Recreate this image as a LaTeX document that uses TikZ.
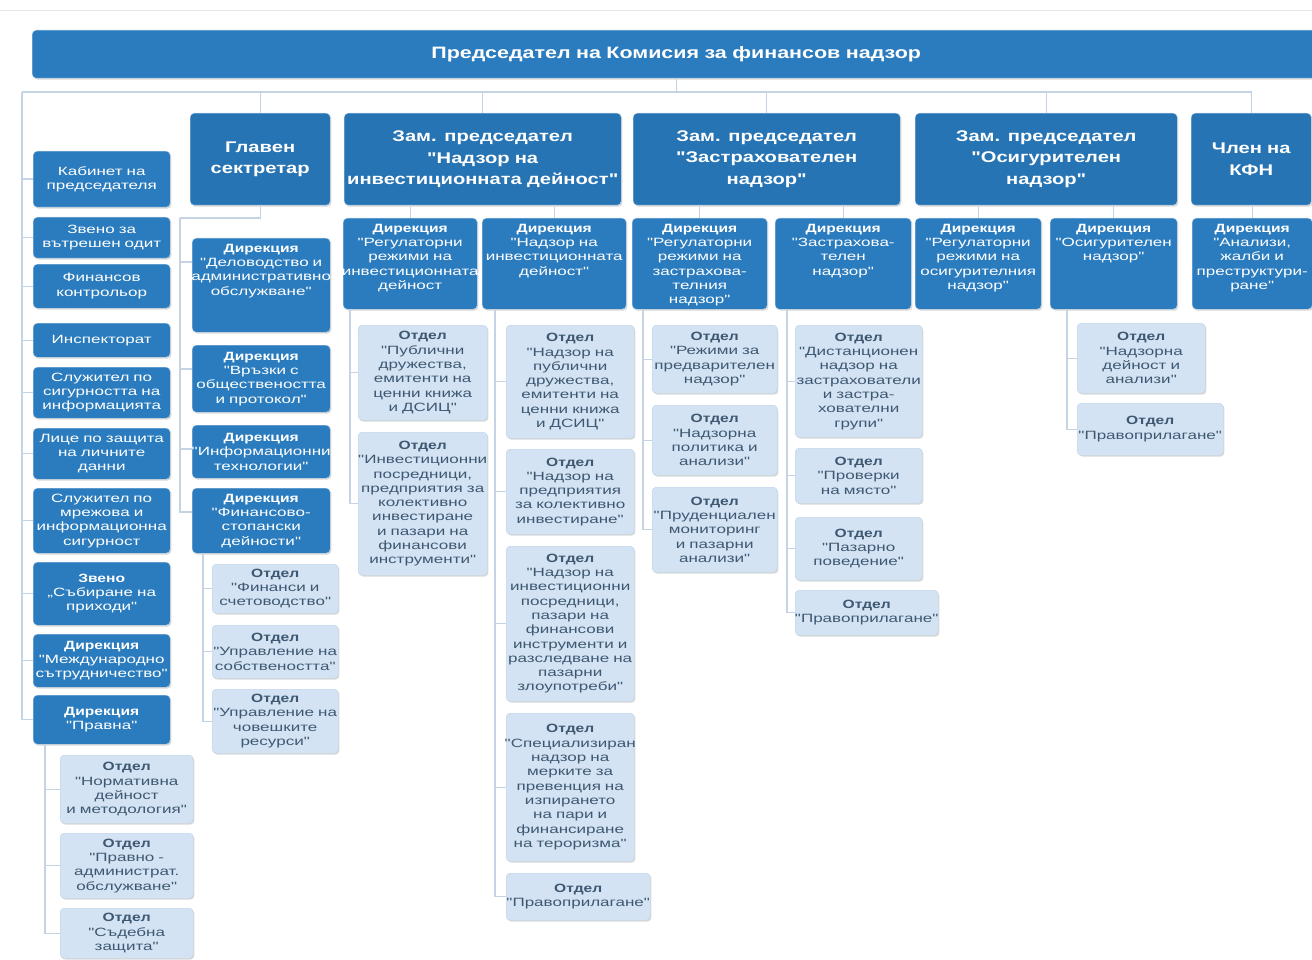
\documentclass[tikz,border=0pt]{standalone}
\usepackage{fontspec}
\setmainfont{Liberation Sans}[Ligatures=TeXOff, FakeStretch=1.42, BoldFeatures={FakeStretch=1.3}]
\usetikzlibrary{shadows}
\definecolor{kfnblue}{RGB}{42,124,190}
\definecolor{kfndark}{RGB}{38,116,180}
\definecolor{kfnlight}{RGB}{211,227,243}
\definecolor{kfnedge}{RGB}{190,210,230}
\definecolor{kfntext}{RGB}{62,88,114}
\definecolor{kfnline}{RGB}{196,212,228}

\begin{document}
\begin{tikzpicture}[x=1pt, y=-1pt,
    box/.style={anchor=north west, inner xsep=-5pt, inner ysep=3pt, align=center,
        rounded corners=4pt, drop shadow={shadow xshift=1.2pt, shadow yshift=-1.4pt, opacity=.3}},
    topbar/.style={box, fill=kfnblue, draw=kfnedge, text=white, font=\fontsize{16.5}{20}\selectfont\bfseries},
    headbox/.style={box, fill=kfndark, draw=kfnedge, text=white, font=\fontsize{15.5}{21.5}\selectfont\bfseries},
    dirbox/.style={box, fill=kfnblue, draw=kfnedge, text=white, font=\fontsize{12}{14.3}\selectfont},
    deptbox/.style={box, fill=kfnlight, draw=kfnedge, text=kfntext, font=\fontsize{12}{14.3}\selectfont},
    attop/.style={text height=11pt, text depth=#1},
    link/.style={draw=kfnline, line width=1.4pt}]
    \clip (0,0) rectangle (1312,960);
    \draw[black!10] (0,10) -- (1312,10);

    % chairman and the five top boxes (text width = box width + 10)
    \node[topbar, text width=1298, minimum height=48] (pred) at (32,30) {Председател на Комисия за финансов надзор};
    \node[headbox, text width=150, minimum height=92] (gs) at (190,113) {Главен\\сектретар};
    \node[headbox, text width=287, minimum height=92] (zam1) at (344,113) {Зам. председател\\"Надзор на\\инвестиционната~дейност"};
    \node[headbox, text width=277, minimum height=92] (zam2) at (633,113) {Зам. председател\\"Застрахователен\\надзор"};
    \node[headbox, text width=272, minimum height=92] (zam3) at (915,113) {Зам. председател\\"Осигурителен\\надзор"};
    \node[headbox, text width=130, minimum height=92] (chlen) at (1191,113) {Член на\\КФН};

    \coordinate (lefttop) at (22,92);
    \coordinate (busend) at (1252,92);
    \draw[link] (pred.south) -- (pred.south |- lefttop);
    \draw[link] (lefttop) -- (busend);
    \foreach \n in {gs,zam1,zam2,zam3,chlen}
        \draw[link] (\n.north) -- (\n.north |- lefttop);

    % units under the chairman
    \node[dirbox, text width=147, minimum height=56] (k1) at (33,151) {Кабинет на\\председателя};
    \node[dirbox, text width=147, minimum height=41] (k2) at (33,217) {Звено за\\вътрешен одит};
    \node[dirbox, text width=147, minimum height=44] (k3) at (33,264) {Финансов\\контрольор};
    \node[dirbox, text width=147, minimum height=34] (k4) at (33,323) {Инспекторат};
    \node[dirbox, text width=147, minimum height=51] (k5) at (33,367) {Служител по\\сигурността на\\информацията};
    \node[dirbox, text width=147, minimum height=51] (k6) at (33,428) {Лице по защита\\на личните\\данни};
    \node[dirbox, text width=147, minimum height=65] (k7) at (33,488) {Служител по\\мрежова и\\информационна\\сигурност};
    \node[dirbox, text width=147, minimum height=63] (k8) at (33,562) {\textbf{Звено}\\„Събиране на\\приходи"};
    \node[dirbox, text width=147, minimum height=53] (k9) at (33,634) {\textbf{Дирекция}\\"Международно\\сътрудничество"};
    \node[dirbox, text width=147, minimum height=49] (k10) at (33,695) {\textbf{Дирекция}\\"Правна"};
    \foreach \n in {k1,k2,k3,k4,k5,k6,k7,k8,k9,k10}
        \draw[link] (lefttop) |- (\n.west);

    \node[deptbox, text width=143, minimum height=68] (p1) at (60,755) {\textbf{Отдел}\\"Нормативна\\дейност\\и методология"};
    \node[deptbox, text width=143, minimum height=65] (p2) at (60,833) {\textbf{Отдел}\\"Правно -\\администрат.\\обслужване"};
    \node[deptbox, text width=143, minimum height=50] (p3) at (60,908) {\textbf{Отдел}\\"Съдебна\\защита"};
    \coordinate (pr) at ([xshift=12pt]k10.south west);
    \foreach \n in {p1,p2,p3}
        \draw[link] (pr) |- (\n.west);

    % chief secretary
    \node[dirbox, text width=148, minimum height=94, attop=77] (g1) at (192,238) {\textbf{Дирекция}\\"Деловодство и\\административно\\обслужване"};
    \node[dirbox, text width=148, minimum height=67] (g2) at (192,345) {\textbf{Дирекция}\\"Връзки с\\обществеността\\и протокол"};
    \node[dirbox, text width=148, minimum height=53] (g3) at (192,425) {\textbf{Дирекция}\\"Информационни\\технологии"};
    \node[dirbox, text width=148, minimum height=65] (g4) at (192,488) {\textbf{Дирекция}\\"Финансово-\\стопански\\дейности"};
    \coordinate (gsj) at (180,218);
    \draw[link] (gs.south) |- (gsj);
    \foreach \n in {g1,g2,g3,g4}
        \draw[link] (gsj) |- ([yshift=-24pt]\n.north west);

    \node[deptbox, text width=136, minimum height=49] (f1) at (212,564) {\textbf{Отдел}\\"Финанси и\\счетоводство"};
    \node[deptbox, text width=136, minimum height=53] (f2) at (212,625) {\textbf{Отдел}\\"Управление на\\собствеността"};
    \node[deptbox, text width=136, minimum height=64] (f3) at (212,689) {\textbf{Отдел}\\"Управление на\\човешките\\ресурси"};
    \coordinate (fs) at ([xshift=11pt]g4.south west);
    \foreach \n in {f1,f2,f3}
        \draw[link] (fs) |- (\n.west);

    % directorates under the deputies
    \node[dirbox, text width=144, minimum height=91, attop=74] (r1) at (343,218) {\textbf{Дирекция}\\"Регулаторни\\режими на\\инвестиционната\\дейност};
    \node[dirbox, text width=154, minimum height=91, attop=74] (r2) at (482,218) {\textbf{Дирекция}\\"Надзор на\\инвестиционната\\дейност"};
    \node[dirbox, text width=145, minimum height=91, attop=74] (r3) at (632,218) {\textbf{Дирекция}\\"Регулаторни\\режими на\\застрахова-\\телния\\надзор"};
    \node[dirbox, text width=146, minimum height=91, attop=74] (r4) at (775,218) {\textbf{Дирекция}\\"Застрахова-\\телен\\надзор"};
    \node[dirbox, text width=136, minimum height=91, attop=74] (r5) at (915,218) {\textbf{Дирекция}\\"Регулаторни\\режими на\\осигурителния\\надзор"};
    \node[dirbox, text width=137, minimum height=91, attop=74] (r6) at (1050,218) {\textbf{Дирекция}\\"Осигурителен\\надзор"};
    \node[dirbox, text width=130, minimum height=91, attop=74] (r7) at (1192,218) {\textbf{Дирекция}\\"Анализи,\\жалби и\\преструктури-\\ране"};
    \draw[link] (r1.north) -- (r1.north |- zam1.south);
    \draw[link] (r2.north) -- (r2.north |- zam1.south);
    \draw[link] (r3.north) -- (r3.north |- zam2.south);
    \draw[link] (r4.north) -- (r4.north |- zam2.south);
    \draw[link] (r5.north) -- (r5.north |- zam3.south);
    \draw[link] (r6.north) -- (r6.north |- zam3.south);
    \draw[link] (r7.north) -- (r7.north |- chlen.south);

    % departments
    \node[deptbox, text width=139, minimum height=95] (a1) at (358,325) {\textbf{Отдел}\\"Публични\\дружества,\\емитенти на\\ценни книжа\\и ДСИЦ"};
    \node[deptbox, text width=139, minimum height=143] (a2) at (358,432) {\textbf{Отдел}\\"Инвестиционни\\посредници,\\предприятия за\\колективно\\инвестиране\\и пазари на\\финансови\\инструменти"};
    \coordinate (r1t) at ([xshift=7pt]r1.south west);
    \foreach \n in {a1,a2}
        \draw[link] (r1t) |- (\n.west);

    \node[deptbox, text width=138, minimum height=113] (b1) at (506,325) {\textbf{Отдел}\\"Надзор на\\публични\\дружества,\\емитенти на\\ценни книжа\\и ДСИЦ"};
    \node[deptbox, text width=138, minimum height=85] (b2) at (506,449) {\textbf{Отдел}\\"Надзор на\\предприятия\\за колективно\\инвестиране"};
    \node[deptbox, text width=138, minimum height=155] (b3) at (506,546) {\textbf{Отдел}\\"Надзор на\\инвестиционни\\посредници,\\пазари на\\финансови\\инструменти и\\разследване на\\пазарни\\злоупотреби"};
    \node[deptbox, text width=138, minimum height=148] (b4) at (506,713) {\textbf{Отдел}\\"Специализиран\\надзор на\\мерките за\\превенция на\\изпирането\\на пари и\\финансиране\\на тероризма"};
    \node[deptbox, text width=154, minimum height=47] (b5) at (506,873) {\textbf{Отдел}\\"Правоприлагане"};
    \coordinate (r2t) at ([xshift=13pt]r2.south west);
    \foreach \n in {b1,b2,b3,b4,b5}
        \draw[link] (r2t) |- (\n.west);

    \node[deptbox, text width=135, minimum height=68] (c1) at (652,325) {\textbf{Отдел}\\"Режими за\\предварителен\\надзор"};
    \node[deptbox, text width=135, minimum height=70] (c2) at (652,405) {\textbf{Отдел}\\"Надзорна\\политика и\\анализи"};
    \node[deptbox, text width=135, minimum height=85] (c3) at (652,487) {\textbf{Отдел}\\"Пруденциален\\мониторинг\\и пазарни\\анализи"};
    \coordinate (r3t) at ([xshift=11pt]r3.south west);
    \foreach \n in {c1,c2,c3}
        \draw[link] (r3t) |- (\n.west);

    \node[deptbox, text width=137, minimum height=112] (d1) at (795,325) {\textbf{Отдел}\\"Дистанционен\\надзор на\\застрахователи\\и застра-\\хователни\\групи"};
    \node[deptbox, text width=137, minimum height=55] (d2) at (795,448) {\textbf{Отдел}\\"Проверки\\на място"};
    \node[deptbox, text width=137, minimum height=63] (d3) at (795,517) {\textbf{Отдел}\\"Пазарно\\поведение"};
    \node[deptbox, text width=153, minimum height=45] (d4) at (795,590) {\textbf{Отдел}\\"Правоприлагане"};
    \coordinate (r4t) at ([xshift=12pt]r4.south west);
    \foreach \n in {d1,d2,d3,d4}
        \draw[link] (r4t) |- (\n.west);

    \node[deptbox, text width=138, minimum height=70] (e1) at (1077,323) {\textbf{Отдел}\\"Надзорна\\дейност и\\анализи"};
    \node[deptbox, text width=156, minimum height=52] (e2) at (1077,403) {\textbf{Отдел}\\"Правоприлагане"};
    \coordinate (r6t) at ([xshift=17pt]r6.south west);
    \foreach \n in {e1,e2}
        \draw[link] (r6t) |- (\n.west);
\end{tikzpicture}
\end{document}
